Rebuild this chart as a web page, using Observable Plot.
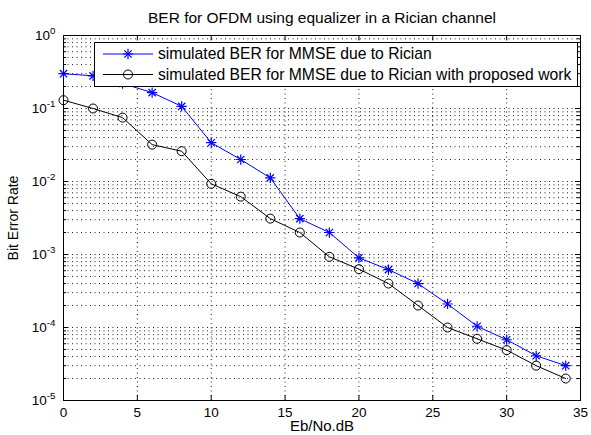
<!DOCTYPE html>
<html><head><meta charset="utf-8">
<script src="https://cdn.jsdelivr.net/npm/d3@7"></script>
<script src="https://cdn.jsdelivr.net/npm/@observablehq/plot@0.6"></script>
<style>body{margin:0;background:#fff} svg{display:block}</style>
</head><body><div id="chart"></div>
<script>
// ---- data ----
const ebNo = [0, 2, 4, 6, 8, 10, 12, 14, 16, 18, 20, 22, 24, 26, 28, 30, 32, 34];
const berRician = [0.30, 0.28, 0.22, 0.165, 0.107, 0.034, 0.020, 0.0112, 0.0031, 0.0020, 0.00090, 0.00062, 0.00040, 0.00021, 0.000104, 0.000068, 0.000041, 0.000030];
const berProposed = [0.13, 0.10, 0.075, 0.032, 0.026, 0.0093, 0.0062, 0.0031, 0.0020, 0.00093, 0.00063, 0.00040, 0.00020, 0.00010, 0.000070, 0.000049, 0.000030, 0.000020];
const seriesNames = ["simulated BER for MMSE due to Rician", "simulated BER for MMSE due to Rician with proposed work"];
const seriesColors = ["#0000ff", "#000000"];
const xTicks = [0, 5, 10, 15, 20, 25, 30, 35];
const yTicks = [1e-5, 1e-4, 1e-3, 1e-2, 1e-1, 1];
const yTickLabels = ["10^-5", "10^-4", "10^-3", "10^-2", "10^-1", "10^0"];
const minorMantissas = [2, 3, 4, 5, 6, 7, 8, 9];
const titleText = "BER for OFDM using equalizer in a Rician channel";
const xLabel = "Eb/No.dB";
const yLabel = "Bit Error Rate";

const rows = ebNo.map((x, i) => ({x, rician: berRician[i], proposed: berProposed[i]}));
const yMinor = yTicks.slice(0, -1).flatMap(d => minorMantissas.map(m => m * d));
const xGrid = xTicks.slice(1, -1);
const yGrid = yTicks.slice(1, -1).concat(yMinor);

const W = 591, H = 435, mL = 63, mR = 11, mT = 35, mB = 35;
const pw = W - mL - mR, ph = H - mT - mB;
const FONT = "'Liberation Sans', Arial, Helvetica, sans-serif";
const gridStyle = {stroke: "#222", strokeWidth: 1, strokeDasharray: "1,3.5"};

const chart = Plot.plot({
  width: W, height: H,
  marginLeft: mL, marginRight: mR, marginTop: mT, marginBottom: mB,
  style: {fontFamily: FONT, fontSize: "13.5px", color: "#000", background: "#fff"},
  x: {domain: [0, 35], label: null},
  y: {type: "log", domain: [1e-5, 1], label: null},
  marks: [
    Plot.ruleX(xGrid, {x: d => d, ...gridStyle}),
    Plot.ruleY(yGrid, {y: d => d, ...gridStyle}),
    // inward ticks: bottom / top
    Plot.tickX(xTicks, {x: d => d, insetTop: ph - 5, stroke: "#000"}),
    Plot.tickX(xTicks, {x: d => d, insetBottom: ph - 5, stroke: "#000"}),
    // inward ticks: left / right (major and minor)
    Plot.tickY(yTicks, {y: d => d, insetRight: pw - 5, stroke: "#000"}),
    Plot.tickY(yTicks, {y: d => d, insetLeft: pw - 5, stroke: "#000"}),
    Plot.tickY(yMinor, {y: d => d, insetRight: pw - 3, stroke: "#000"}),
    Plot.tickY(yMinor, {y: d => d, insetLeft: pw - 3, stroke: "#000"}),
    Plot.frame({stroke: "#000", strokeWidth: 1}),
    // series
    Plot.line(rows, {x: "x", y: "rician", stroke: seriesColors[0], strokeWidth: 1}),
    Plot.dot(rows, {x: "x", y: "rician", symbol: "plus", r: 3.4, stroke: seriesColors[0], strokeWidth: 1.2}),
    Plot.dot(rows, {x: "x", y: "rician", symbol: "times", r: 3.4, stroke: seriesColors[0], strokeWidth: 1.2}),
    Plot.line(rows, {x: "x", y: "proposed", stroke: seriesColors[1], strokeWidth: 1}),
    Plot.dot(rows, {x: "x", y: "proposed", symbol: "circle", r: 4.5, stroke: seriesColors[1], fill: "none", strokeWidth: 1}),
    // axes labels
    Plot.axisX({ticks: xTicks, tickSize: 0, tickPadding: 7, label: null, fontSize: 13.5}),
    Plot.axisY({ticks: yTicks, tickSize: 0, tickPadding: 8, label: null, fontSize: 13.5,
      tickFormat: d => yTickLabels[yTicks.findIndex(t => Math.abs(Math.log10(t) - Math.log10(d)) < 1e-6)]}),
    Plot.text([titleText], {frameAnchor: "top", dy: -17, textAnchor: "middle", lineAnchor: "middle", fontSize: 15.5}),
    Plot.text([xLabel], {frameAnchor: "bottom", dy: 26, textAnchor: "middle", lineAnchor: "middle", fontSize: 15}),
    Plot.text([yLabel], {frameAnchor: "left", dx: -50, rotate: -90, textAnchor: "middle", lineAnchor: "middle", fontSize: 14})
  ]
});
document.getElementById("chart").appendChild(chart);

const svg = d3.select(chart);
// superscript exponents on y tick labels
svg.selectAll('g[aria-label="y-axis tick label"] text').each(function () {
  const t = this.textContent;
  const [base, exp] = t.split("^");
  const s = d3.select(this);
  s.text(null);
  s.append("tspan").text(base);
  s.append("tspan").attr("dy", "-0.6em").attr("font-size", "0.72em").text(exp);
});

// legend box (inside the axes, top)
const lg = svg.append("g").attr("font-family", FONT).attr("font-size", 15.7).attr("text-anchor", "start");
lg.append("rect").attr("x", 94.5).attr("y", 42.5).attr("width", 483).attr("height", 44)
  .attr("fill", "#fff").attr("stroke", "#000");
const rowsY = [54, 74.5];
seriesNames.forEach((name, i) => {
  const y = rowsY[i];
  lg.append("line").attr("x1", 103).attr("x2", 153).attr("y1", y).attr("y2", y)
    .attr("stroke", seriesColors[i]).attr("stroke-width", 1);
  if (i === 0) {
    const a = Math.PI * 3.4 * 3.4;
    lg.append("path").attr("d", d3.symbol(d3.symbolPlus, a)()).attr("transform", `translate(128,${y})`)
      .attr("fill", "none").attr("stroke", seriesColors[0]).attr("stroke-width", 1.2);
    lg.append("path").attr("d", d3.symbol(d3.symbolTimes, a)()).attr("transform", `translate(128,${y})`)
      .attr("fill", "none").attr("stroke", seriesColors[0]).attr("stroke-width", 1.2);
  } else {
    lg.append("circle").attr("cx", 128).attr("cy", y).attr("r", 4.5)
      .attr("fill", "none").attr("stroke", seriesColors[1]);
  }
  lg.append("text").attr("x", 158).attr("y", y).attr("dy", "0.35em").attr("fill", "#000")
    .attr("text-anchor", "start").text(name);
});
</script>
</body></html>
